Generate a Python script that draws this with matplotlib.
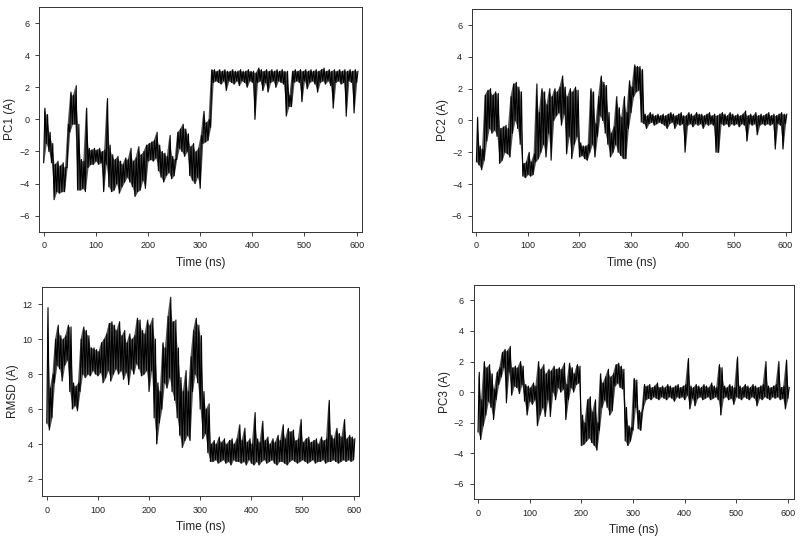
import numpy as np
import matplotlib
matplotlib.use("Agg")
import matplotlib.pyplot as plt

plt.rcParams['font.family'] = ['Liberation Sans', 'DejaVu Sans']

# time bins (ns), every 5 ns; each bin stores the low and high value seen in it
t = np.arange(0, 605, 5)

pc1_lo = [-2.7, -1.5, -2.0, -2.7, -5.0, -4.5, -4.6, -4.5, -4.5, -3.0,
          -0.8, -0.3, -0.3, -4.4, -4.4, -4.3, -4.5, -3.0, -2.8, -2.8,
          -2.6, -2.8, -2.7, -4.5, -2.8, -4.2, -4.5, -4.4, -4.0, -4.6,
          -4.2, -3.9, -3.6, -3.9, -4.2, -4.8, -4.5, -4.4, -3.8, -4.3,
          -2.6, -2.5, -2.6, -2.4, -3.2, -3.6, -3.9, -3.5, -3.3, -3.7,
          -3.5, -2.5, -1.8, -2.0, -2.3, -2.0, -3.5, -3.8, -4.0, -3.6,
          -4.3, -1.5, -1.4, -1.3, -0.5, 2.3, 2.4, 2.3, 2.2, 2.4,
          1.8, 2.4, 2.3, 2.2, 2.4, 2.1, 2.4, 2.3, 2.0, 2.4,
          2.3, 0.0, 2.3, 2.4, 1.8, 2.3, 1.7, 2.3, 2.4, 2.0,
          2.4, 2.3, 2.2, 0.2, 0.8, 0.8, 2.3, 2.4, 2.3, 1.1,
          2.4, 1.9, 2.3, 2.4, 2.2, 1.7, 2.3, 2.4, 2.2, 2.4,
          2.1, 0.7, 2.3, 2.4, 2.2, 2.3, 0.2, 2.4, 2.3, 0.4, 2.3]
pc1_hi = [0.7, 0.3, -0.8, -1.5, -2.8, -2.6, -2.9, -2.7, -3.0, -0.3,
          1.7, 1.5, 2.1, -0.3, -2.5, -2.6, 0.7, -1.8, -1.9, -1.8,
          -1.9, -1.8, -2.0, -1.9, 1.3, -1.6, -2.2, -2.5, -2.3, -2.6,
          -2.8, -2.4, -2.5, -1.8, -2.6, -2.4, -1.7, -2.2, -2.0, -1.6,
          -1.5, -1.4, -1.3, -0.8, -1.6, -2.0, -2.1, -2.3, -1.0, -2.3,
          -2.5, -0.8, -0.6, -0.3, -0.6, -0.9, -1.7, -1.5, -2.0, -1.8,
          -1.0, 0.5, -0.2, 0.0, 3.1, 3.1, 3.0, 3.1, 3.0, 3.1,
          3.0, 3.0, 3.1, 3.0, 3.0, 3.1, 3.0, 3.0, 3.1, 3.0,
          3.0, 2.9, 3.2, 3.1, 3.0, 3.1, 3.0, 3.1, 3.0, 3.1,
          3.0, 3.1, 3.0, 3.0, 1.5, 3.0, 3.1, 3.0, 3.1, 3.0,
          3.1, 3.0, 3.1, 3.0, 3.1, 3.0, 3.1, 3.2, 3.0, 3.1,
          3.0, 3.1, 3.0, 3.1, 3.0, 3.1, 3.0, 3.1, 3.0, 3.1, 3.0]

pc2_lo = [-2.6, -2.8, -3.1, -2.5, -1.3, -0.5, -0.8, -0.6, -1.0, -2.7,
          -2.5, -2.0, -2.1, -2.3, -0.8, 0.0, -0.5, -1.5, -3.5, -3.6,
          -3.4, -3.5, -3.4, -2.6, -2.4, -2.0, -1.5, -2.3, -0.8, -2.5,
          0.0, 0.3, 0.5, -0.3, 0.4, -2.1, -1.0, -2.4, -1.5, -1.0,
          -2.3, -2.2, -2.4, -2.5, -2.0, -1.5, -2.3, -1.0, 0.3, 0.0,
          -0.8, -1.5, -2.3, -2.0, -1.5, -2.0, -2.2, -2.4, -2.4, -0.5,
          0.5, 1.5, 1.8, 1.9, -0.1, -0.2, -0.5, -0.2, -0.1, -0.3,
          -0.2, -0.1, -0.2, -0.3, -0.5, -0.2, -0.1, -0.5, -0.2, -0.3,
          -0.2, -2.0, -0.3, -0.2, -0.4, -0.2, -0.3, -0.2, -0.5, -0.2,
          -0.3, -0.2, -0.3, -2.0, -2.0, -0.2, -0.3, -0.2, -0.4, -0.2,
          -0.3, -0.2, -0.4, -0.2, -0.3, -1.3, -0.2, -0.3, -0.2, -0.9,
          -0.3, -0.2, -0.3, -0.2, -0.3, -0.2, -1.8, -0.2, -0.3, -1.8, -0.2]
pc2_hi = [0.2, -1.6, -1.8, 1.6, 1.9, 2.0, 1.6, 1.8, 1.7, -0.5,
          -0.4, -0.3, -0.5, 1.5, 2.3, 2.4, 2.1, 1.8, -2.7, -2.6,
          -2.0, -2.6, -2.1, 2.3, 0.5, 2.0, 1.8, 1.0, 2.0, 1.5,
          2.0, 1.8, 2.1, 2.8, 2.1, 1.5, 2.0, 1.8, 2.1, 1.9,
          -1.4, -1.6, -1.6, -1.5, 2.0, 1.8, -0.2, 1.5, 2.8, 2.4,
          2.2, 0.5, -0.8, -0.4, 1.5, 0.8, 0.2, 1.5, 0.5, 2.5,
          2.1, 3.5, 3.4, 3.4, 3.2, 0.4, 0.3, 0.5, 0.4, 0.3,
          0.4, 0.3, 0.4, 0.3, 0.4, 0.5, 0.4, 0.3, 0.4, 0.5,
          0.3, 0.3, 0.5, 0.4, 0.3, 0.5, 0.4, 0.4, 0.3, 0.4,
          0.5, 0.3, 0.4, 0.3, 0.4, 0.5, 0.4, 0.3, 0.5, 0.4,
          0.3, 0.4, 0.3, 0.4, 0.6, 0.3, 0.4, 0.3, 0.5, 0.3,
          0.4, 0.3, 0.4, 0.5, 0.3, 0.4, 0.3, 0.4, 0.5, 0.4, 0.4]

rmsd_lo = [5.2, 4.8, 5.5, 7.5, 8.5, 8.3, 7.6, 8.5, 8.8, 7.0,
           6.0, 6.2, 5.9, 7.0, 8.0, 7.8, 8.0, 7.9, 8.2, 8.0,
           7.9, 8.1, 7.5, 7.8, 8.2, 7.6, 8.0, 8.3, 8.0, 8.2,
           7.7, 8.1, 7.4, 8.3, 8.0, 8.6, 8.3, 7.9, 8.0, 8.2,
           7.0, 8.2, 5.5, 4.0, 5.2, 6.0, 7.5, 7.2, 7.8, 7.0,
           6.5, 5.5, 4.5, 3.8, 4.2, 4.5, 4.2, 7.0, 8.0, 7.5,
           6.0, 4.3, 4.6, 3.5, 3.0, 3.0, 3.1, 2.9, 3.0, 3.1,
           2.9, 3.0, 2.8, 3.1, 3.0, 3.0, 2.9, 3.0, 2.8, 3.1,
           2.9, 2.8, 3.0, 2.8, 3.0, 3.1, 2.9, 3.0, 3.1, 2.9,
           2.8, 3.0, 3.0, 2.9, 2.8, 3.0, 3.1, 3.0, 2.9, 3.0,
           3.1, 3.0, 2.9, 3.0, 3.1, 2.9, 3.0, 3.0, 3.1, 2.9,
           3.0, 3.0, 3.1, 3.0, 2.9, 3.0, 3.1, 3.0, 3.1, 3.0, 3.1]
rmsd_hi = [11.8, 7.2, 8.0, 10.0, 10.8, 10.2, 10.0, 10.2, 10.8, 10.7,
           7.5, 7.3, 7.5, 10.0, 10.7, 10.5, 10.2, 9.5, 9.5, 9.4,
           9.3, 9.8, 10.0, 10.3, 10.9, 11.0, 10.8, 10.5, 11.0, 10.2,
           10.5, 9.8, 10.3, 10.0, 10.2, 11.2, 11.1, 10.5, 10.3, 11.1,
           10.8, 11.2, 10.0, 7.5, 7.0, 9.8, 9.5, 11.3, 12.4, 11.0,
           11.1, 9.5, 7.8, 7.0, 8.2, 7.0, 9.0, 10.5, 11.2, 10.8,
           10.2, 7.0, 6.0, 6.3, 4.0, 4.2, 4.0, 4.4, 4.1, 4.3,
           4.0, 4.2, 4.3, 4.0, 4.3, 5.1, 4.2, 4.9, 4.1, 4.3,
           4.0, 5.8, 4.3, 4.1, 5.3, 4.2, 4.4, 4.0, 4.3, 4.1,
           4.5, 4.2, 5.1, 4.3, 4.9, 4.7, 4.8, 4.2, 4.3, 5.4,
           4.1, 4.3, 4.4, 4.1, 4.2, 4.3, 4.0, 4.4, 4.2, 4.3,
           6.5, 4.5, 4.3, 4.9, 4.6, 4.4, 5.4, 4.3, 4.5, 4.4, 4.3]

pc3_lo = [-2.6, -3.1, -2.2, -1.5, -0.6, -1.0, -1.8, -0.5, 0.5, 1.0,
          1.6, -0.7, 1.3, -0.2, 0.4, 0.3, -0.1, 0.5, -0.6, -1.5,
          -0.6, -0.8, -0.5, -2.2, -1.5, -1.0, -1.6, -0.5, -1.6, 0.0,
          -0.5, 0.3, 0.0, 0.2, -1.8, -0.5, 0.3, 0.0, 0.5, 0.6,
          -3.5, -3.4, -3.2, -3.0, -3.3, -3.5, -3.8, -2.5, -1.0, -0.5,
          -1.0, -1.5, -1.2, 0.4, 0.6, 0.3, 0.2, -3.2, -3.5, -3.2,
          -2.5, -1.0, -2.4, -2.5, -1.0, -0.5, -0.4, -0.5, -0.3, -0.4,
          -0.5, -0.3, -0.4, -0.5, -0.3, -0.4, -0.6, -0.3, -0.4, -0.3,
          -0.5, -0.2, -1.1, -0.4, -0.9, -0.4, -0.3, -0.5, -0.4, -0.3,
          -0.5, -0.4, -0.3, -0.5, -1.5, -0.4, -0.3, -0.5, -0.4, -0.8,
          -0.3, -0.4, -0.5, -0.3, -0.4, -0.5, -0.3, -0.4, -0.9, -0.4,
          -0.5, -0.3, -0.4, -0.5, -0.3, -0.4, -0.3, -0.5, -0.4, -1.1, -0.4]
pc3_hi = [1.3, -0.5, 2.0, 1.6, 1.8, 1.2, 0.2, 1.3, 1.6, 2.6,
          2.8, 2.7, 3.0, 1.6, 1.7, 1.6, 2.0, 1.7, 0.5, 0.4,
          0.3, 0.6, 0.4, 2.0, 1.5, 1.8, 1.2, 1.5, 1.4, 1.7,
          1.5, 1.6, 1.5, 1.9, 0.5, 1.9, 1.6, 1.2, 1.8, 1.7,
          -1.5, -2.0, -0.5, -0.3, -1.3, -0.5, -2.0, 1.2, 0.6, 1.0,
          1.5, 1.0, 1.2, 1.8, 1.9, 1.7, 1.5, -1.0, -2.2, -2.3,
          0.9, 0.8, -1.2, -1.3, 0.5, 0.4, 0.5, 0.3, 0.4, 0.6,
          0.3, 0.4, 0.3, 0.5, 0.4, 0.3, 0.4, 0.5, 0.3, 0.4,
          0.5, 2.2, 0.4, 0.3, 0.5, 0.4, 0.3, 0.5, 0.4, 0.3,
          0.6, 0.4, 0.3, 1.8, 1.6, 0.4, 0.3, 0.5, 0.4, 0.3,
          2.3, 0.4, 0.3, 0.5, 0.4, 0.3, 0.5, 0.4, 0.3, 0.4,
          0.5, 2.0, 0.4, 0.3, 0.4, 0.5, 2.0, 0.3, 0.4, 2.1, 0.3]

panels = [
    ("PC1 (A)", pc1_lo, pc1_hi, (-7, 7), [-6, -4, -2, 0, 2, 4, 6], [0.049, 0.570, 0.404, 0.417]),
    ("PC2 (A)", pc2_lo, pc2_hi, (-7, 7), [-6, -4, -2, 0, 2, 4, 6], [0.590, 0.570, 0.399, 0.413]),
    ("RMSD (A)", rmsd_lo, rmsd_hi, (1, 13), [2, 4, 6, 8, 10, 12], [0.053, 0.079, 0.396, 0.389]),
    ("PC3 (A)", pc3_lo, pc3_hi, (-7, 7), [-6, -4, -2, 0, 2, 4, 6], [0.592, 0.074, 0.400, 0.397]),
]

fig = plt.figure(figsize=(8, 5.39), dpi=100)
W, H = 800, 539

for ylabel, lo, hi, ylim, yticks, rect in panels:
    ax = fig.add_axes(rect)
    # grey envelope of each 5 ns bin, black zigzag through low/high on top
    ax.fill_between(t, lo, hi, color='#555555', lw=0)
    x = np.column_stack([t, t + 2.5]).ravel()
    y = np.column_stack([lo, hi]).ravel()
    ax.plot(x, y, color='black', lw=0.8)
    ax.set_xlim(-8.5, 611)
    ax.set_ylim(*ylim)
    ax.set_xticks([0, 100, 200, 300, 400, 500, 600])
    ax.set_yticks(yticks)
    ax.tick_params(direction='out', length=3, width=0.6, labelsize=6.5,
                   colors='#222222', pad=4)
    for s in ax.spines.values():
        s.set_linewidth(0.7)
        s.set_color('#333333')
    ax.set_xlabel("Time (ns)", fontsize=8.5, color='#222222')
    ax.set_ylabel(ylabel, fontsize=8.5, color='#222222')
    # label centres sit about 29 px left / 31 px below the frame
    ax.yaxis.set_label_coords(-29 / (rect[2] * W), 0.5)
    ax.xaxis.set_label_coords(0.5, -31 / (rect[3] * H))
    ax.xaxis.label.set_va('center')
    ax.yaxis.label.set_va('center')

fig.savefig("out.png", dpi=100)
